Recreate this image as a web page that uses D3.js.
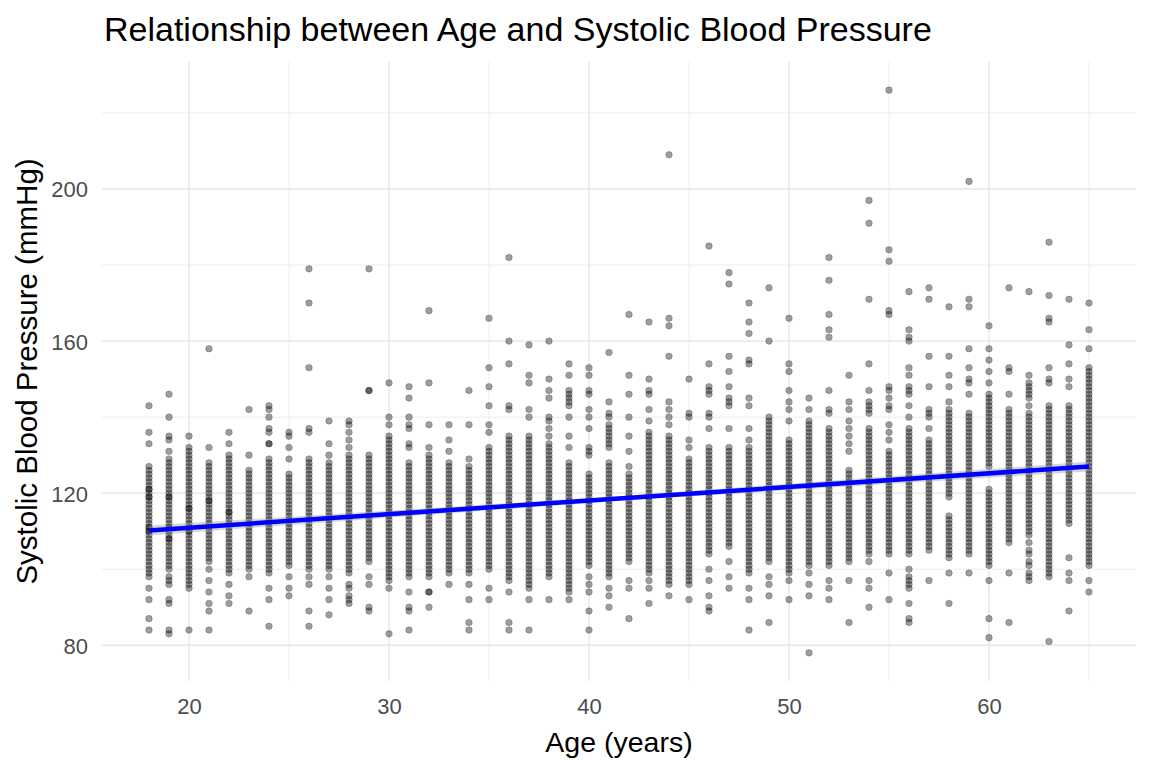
<!DOCTYPE html>
<html>
<head>
<meta charset="utf-8">
<script src="https://cdn.jsdelivr.net/npm/d3@7"></script>
<style>
  body { margin: 0; background: white; }
  text { font-family: "Liberation Sans", Arial, sans-serif; }
</style>
</head>
<body>
<div id="chart"></div>
<script>
// ages on x, one list of systolic readings per age
const ages = [18,19,20,21,22,23,24,25,26,27,28,29,30,31,32,33,34,35,36,37,38,39,40,41,
              42,43,44,45,46,47,48,49,50,51,52,53,54,55,56,57,58,59,60,61,62,63,64,65];

const sbpByAge = [
  [143,136,133,127,126,125,124,123,122,121,121,120,119,119,118,117,116,115,114,113,112,111,111,110,110,109,108,107,106,105,104,103,102,101,100,99,98,95,92,87,84],
  [146,140,135,134,131,129,128,127,126,125,124,123,122,121,120,119,119,118,117,116,115,114,113,112,111,111,110,109,108,108,107,106,105,104,103,102,101,100,98,97,96,92,91,84,83],
  [135,132,131,130,129,128,127,126,125,124,123,122,121,120,119,118,117,116,116,115,114,113,112,111,110,110,109,108,107,106,105,104,103,102,101,100,99,98,97,96,95,84],
  [158,132,128,127,126,125,124,123,122,121,120,119,118,118,117,116,115,114,113,112,111,110,109,108,107,106,105,104,103,102,100,97,94,91,89,84],
  [136,133,130,129,128,127,126,125,124,123,122,121,120,119,118,117,116,115,115,114,113,112,111,110,109,108,107,106,105,104,103,102,101,100,99,96,93,91],
  [142,130,126,125,124,123,122,121,120,119,118,117,116,115,114,113,112,111,110,109,108,107,106,105,104,103,102,101,100,98,89],
  [143,142,140,137,136,133,133,129,128,127,126,125,124,123,122,121,120,119,118,117,116,115,114,113,112,111,110,109,108,107,106,105,104,103,102,101,100,99,95,92,85],
  [136,135,132,129,125,124,123,122,121,120,119,118,117,116,115,114,113,112,111,110,109,108,107,106,105,104,103,102,101,98,95,93],
  [179,170,153,137,136,129,128,127,126,125,124,123,122,121,120,119,118,117,116,115,114,113,112,111,110,109,108,107,106,105,104,103,102,101,100,98,96,89,85],
  [139,133,130,128,127,126,125,124,123,122,121,120,119,118,117,116,115,114,113,112,111,110,109,108,107,106,105,104,103,102,101,100,98,95,92,88],
  [139,138,136,134,132,130,129,128,127,126,125,124,123,122,121,120,119,118,117,116,115,114,113,112,111,110,109,108,107,106,105,104,103,102,101,100,99,96,95,93,92,91],
  [179,147,147,130,129,128,127,126,125,124,123,122,121,120,119,118,117,116,115,114,113,112,111,110,109,108,107,106,105,104,103,102,98,96,90,89],
  [149,140,138,135,134,133,132,131,130,129,128,127,126,125,124,123,122,121,120,119,118,117,116,115,114,113,112,111,110,109,108,107,106,105,104,103,102,101,100,99,98,97,95,83],
  [148,145,140,138,137,133,132,128,127,126,125,124,123,122,121,120,119,118,117,116,115,114,113,112,111,110,109,108,107,106,105,104,103,102,101,100,99,98,94,90,89,84],
  [168,149,138,132,130,129,128,127,126,125,124,123,122,121,120,119,118,117,116,115,114,113,112,111,110,109,108,107,106,105,104,103,102,101,100,99,98,94,94,90],
  [138,134,131,128,127,126,125,124,123,122,121,120,119,118,117,116,115,114,113,112,111,110,109,108,107,106,105,104,103,102,101,100,99,96],
  [147,138,129,127,126,125,124,123,122,121,120,119,118,117,116,115,114,113,112,111,110,109,108,107,106,105,104,103,102,101,100,99,96,92,86,84],
  [166,153,148,143,138,136,132,131,130,129,128,127,126,125,124,123,122,121,120,119,118,117,116,115,114,113,112,111,110,109,108,107,106,105,104,103,102,101,100,95,92],
  [182,160,154,143,142,135,134,133,132,131,130,129,128,127,126,125,124,123,122,121,120,119,118,117,116,115,114,113,112,111,110,109,108,107,106,105,104,103,102,101,100,99,98,97,94,86,84],
  [159,151,149,142,140,135,134,133,132,131,130,129,128,127,126,125,124,123,122,121,120,119,118,117,116,115,114,113,112,111,110,109,108,107,106,105,104,103,102,101,100,99,98,97,96,95,92,84],
  [160,150,147,145,140,139,137,135,133,132,131,130,129,128,127,126,125,124,123,122,121,120,119,118,117,116,115,114,113,112,111,110,109,108,107,106,105,104,103,102,101,100,99,98,92],
  [154,151,147,146,145,144,143,140,135,132,128,127,126,125,124,123,122,121,120,119,118,117,116,115,114,113,112,111,110,109,108,107,106,105,104,103,102,101,100,99,98,97,96,95,94,92],
  [153,151,147,146,142,140,137,132,131,130,125,124,123,122,121,120,119,118,117,116,115,114,113,112,111,110,109,108,107,106,105,104,103,102,101,98,96,94,89,84],
  [157,144,141,140,138,137,136,135,134,133,132,128,127,126,125,124,123,122,121,120,119,118,117,116,115,114,113,112,111,110,109,108,107,106,105,104,103,102,101,100,99,98,95,93,90],
  [167,151,146,140,135,131,127,125,124,123,122,121,120,119,118,117,116,115,114,113,112,111,110,109,108,107,106,105,104,103,102,97,95,87],
  [165,150,147,146,142,139,136,135,134,133,132,131,130,129,128,127,126,125,124,123,122,121,120,119,118,117,116,115,114,113,112,111,110,109,108,107,106,105,104,103,102,101,100,99,97,95,91],
  [209,166,164,156,144,142,140,138,135,134,133,132,131,130,129,128,127,126,125,124,123,122,121,120,119,118,117,116,115,114,113,112,111,110,109,108,107,106,105,104,103,102,101,100,99,98,97,96,93],
  [150,141,140,134,132,129,128,127,126,125,124,123,122,121,120,119,118,117,116,115,114,113,112,111,110,109,108,107,106,105,104,103,102,101,100,99,98,97,96,92],
  [185,154,148,147,146,141,140,137,132,131,130,129,128,127,126,125,124,123,122,121,120,119,118,117,116,115,114,113,112,111,110,109,108,107,106,105,104,100,97,93,90,89],
  [178,175,156,152,148,145,144,143,137,132,131,130,129,128,127,126,125,124,123,122,121,120,119,118,117,116,115,114,113,112,111,110,109,108,107,106,102,98,95],
  [170,165,162,155,154,145,143,137,134,132,131,130,129,128,127,126,125,124,123,122,121,120,119,118,117,116,115,114,113,112,111,110,109,108,107,106,105,104,103,102,101,100,99,95,92,84],
  [174,160,140,139,138,137,136,135,134,133,132,131,130,129,128,127,126,125,124,123,122,121,120,119,118,117,116,115,114,113,112,111,110,109,108,107,106,105,104,103,102,98,96,93,86],
  [166,154,152,147,144,142,139,134,133,132,131,130,129,128,127,126,125,124,123,122,121,120,119,118,117,116,115,114,113,112,111,110,109,108,107,106,105,104,103,102,101,100,99,97,92],
  [145,142,139,138,137,136,135,134,133,132,131,130,129,128,127,126,125,124,123,122,121,120,119,118,117,116,115,114,113,112,111,110,109,108,107,106,105,104,103,102,101,99,96,93,78],
  [182,176,167,163,161,147,142,141,137,136,135,134,133,132,131,130,129,128,127,126,125,124,123,122,121,120,119,118,117,116,115,114,113,112,111,110,109,108,107,106,105,104,103,102,101,97,95,92],
  [151,144,142,139,137,135,133,131,126,125,124,123,122,121,120,119,118,117,116,115,114,113,112,111,110,109,108,107,106,105,104,103,102,97,86],
  [197,191,171,154,147,144,143,142,141,137,136,135,134,133,132,131,130,129,128,127,126,125,124,123,122,121,120,119,118,117,116,115,114,113,112,111,110,109,108,107,106,105,104,102,97,95,90],
  [226,184,181,168,167,148,147,145,143,142,138,136,134,131,130,129,128,127,126,125,124,123,122,121,120,119,118,117,116,115,114,113,112,111,110,109,108,107,106,105,104,99,92],
  [173,163,161,160,153,151,148,147,146,143,140,137,136,135,134,133,132,131,130,129,128,127,126,125,124,123,122,121,120,119,118,117,116,115,114,113,112,111,110,109,108,107,106,105,104,100,98,97,96,95,91,87,86],
  [174,171,156,148,142,141,140,137,134,133,132,131,130,129,128,127,126,125,124,123,122,121,120,119,118,117,116,115,114,113,112,111,110,109,108,107,106,105,97],
  [169,156,151,148,144,142,141,140,139,138,137,136,135,134,133,132,131,130,129,128,127,126,125,124,123,122,121,120,119,114,113,112,111,110,109,108,107,106,105,104,103,99,91],
  [202,171,169,158,153,150,149,146,141,140,139,138,137,136,135,134,133,132,131,130,129,128,127,126,125,124,123,122,121,120,119,118,117,116,115,114,113,112,111,110,109,108,107,106,105,104,99],
  [164,158,155,152,149,146,145,144,143,142,141,140,139,138,137,136,135,134,133,132,131,130,129,128,127,121,120,119,118,117,116,115,114,113,112,111,110,109,108,107,106,105,104,103,102,101,97,87,82],
  [174,153,152,146,142,141,140,139,138,137,136,135,134,133,132,131,130,129,128,127,126,125,124,123,122,121,120,119,118,117,116,115,114,113,112,111,110,109,108,107,99,86],
  [173,151,149,148,147,146,145,143,141,140,139,138,137,136,135,134,133,132,131,130,129,128,127,126,125,124,123,122,121,120,119,118,117,116,115,114,113,112,111,110,109,107,105,104,102,101,99,98,97],
  [186,172,166,165,153,150,149,143,142,141,140,139,138,137,136,135,134,133,132,131,130,129,128,127,126,125,124,123,122,121,120,119,118,117,116,115,114,113,112,111,110,109,108,107,106,105,104,103,102,101,100,99,98,81],
  [171,159,154,150,148,143,142,141,140,139,138,137,136,135,134,133,132,131,130,129,128,127,126,125,124,123,122,121,120,119,118,117,116,115,114,113,112,103,99,97,89],
  [170,163,158,153,152,151,150,149,148,147,146,145,144,143,142,141,140,139,138,137,136,135,134,133,132,131,130,129,128,127,126,125,124,123,122,121,120,119,118,117,116,115,114,113,112,111,110,109,108,107,106,105,104,103,102,101,97,94]
];

// fitted trend and its narrow band
const fitAge = [18, 41.5, 65];
const fitSbp = [110.2, 118.6, 127.0];
const fitLow = [108.9, 118.0, 125.7];
const fitHigh = [111.5, 119.2, 128.3];

const xTicks = [20, 30, 40, 50, 60];
const xMinor = [25, 35, 45, 55, 65];
const yTicks = [80, 120, 160, 200];
const yMinor = [100, 140, 180, 220];

const width = 1152, height = 768;
const panel = {left: 102, right: 1136, top: 62, bottom: 681};

let points = [];
ages.forEach((a, i) => sbpByAge[i].forEach(v => points.push({age: a, sbp: v})));

const allSbp = points.map(d => d.sbp);
const yLo = d3.min(allSbp), yHi = d3.max(allSbp);
const xLo = d3.min(ages), xHi = d3.max(ages);
const xPad = (xHi - xLo) * 0.05, yPad = (yHi - yLo) * 0.05;

let x = d3.scaleLinear().domain([xLo - xPad, xHi + xPad]).range([panel.left, panel.right]);
let y = d3.scaleLinear().domain([yLo - yPad, yHi + yPad]).range([panel.bottom, panel.top]);

let svg = d3.select('#chart').append('svg')
    .attr('width', width)
    .attr('height', height)
    .style('background', 'white');

// grid
let grid = svg.append('g');
grid.selectAll('.ymin').data(yMinor.filter(v => y(v) >= panel.top)).join('line')
    .attr('x1', panel.left).attr('x2', panel.right)
    .attr('y1', d => y(d)).attr('y2', d => y(d))
    .attr('stroke', '#ebebeb').attr('stroke-width', 0.9);
grid.selectAll('.xmin').data(xMinor).join('line')
    .attr('y1', panel.top).attr('y2', panel.bottom)
    .attr('x1', d => x(d)).attr('x2', d => x(d))
    .attr('stroke', '#ebebeb').attr('stroke-width', 0.9);
grid.selectAll('.ymaj').data(yTicks).join('line')
    .attr('x1', panel.left).attr('x2', panel.right)
    .attr('y1', d => y(d)).attr('y2', d => y(d))
    .attr('stroke', '#ebebeb').attr('stroke-width', 1.8);
grid.selectAll('.xmaj').data(xTicks).join('line')
    .attr('y1', panel.top).attr('y2', panel.bottom)
    .attr('x1', d => x(d)).attr('x2', d => x(d))
    .attr('stroke', '#ebebeb').attr('stroke-width', 1.8);

// points
svg.append('g').selectAll('circle')
    .data(points)
    .join('circle')
    .attr('cx', d => x(d.age))
    .attr('cy', d => y(d.sbp))
    .attr('r', 3.3)
    .attr('fill', 'rgba(0,0,0,0.38)')
    .attr('stroke', 'rgba(0,0,0,0.3)')
    .attr('stroke-width', 0.7);

// band + trend line
let fit = fitAge.map((a, i) => ({age: a, sbp: fitSbp[i], lo: fitLow[i], hi: fitHigh[i]}));
svg.append('path')
    .datum(fit)
    .attr('d', d3.area().x(d => x(d.age)).y0(d => y(d.lo)).y1(d => y(d.hi)))
    .attr('fill', '#999999')
    .attr('opacity', 0.4);
svg.append('path')
    .datum(fit)
    .attr('d', d3.line().x(d => x(d.age)).y(d => y(d.sbp)))
    .attr('fill', 'none')
    .attr('stroke', '#0000ff')
    .attr('stroke-width', 4.5);

// axes (text only, theme_minimal style)
let xAxis = svg.append('g')
    .attr('transform', `translate(0,${panel.bottom})`)
    .call(d3.axisBottom(x).tickValues(xTicks).tickSize(0).tickPadding(17));
let yAxis = svg.append('g')
    .attr('transform', `translate(${panel.left},0)`)
    .call(d3.axisLeft(y).tickValues(yTicks).tickSize(0).tickPadding(14));
[xAxis, yAxis].forEach(ax => {
    ax.select('.domain').remove();
    ax.selectAll('text')
      .attr('fill', '#4d4d4d')
      .style('font-size', '22px')
      .style('font-family', '"Liberation Sans", Arial, sans-serif');
});
xAxis.selectAll('text').attr('dy', '0.71em');
yAxis.selectAll('text').attr('dy', '0.36em');

svg.append('text')
    .attr('x', 104).attr('y', 41)
    .style('font-size', '34px')
    .attr('fill', 'black')
    .text('Relationship between Age and Systolic Blood Pressure');

svg.append('text')
    .attr('x', (panel.left + panel.right) / 2).attr('y', 752)
    .attr('text-anchor', 'middle')
    .style('font-size', '28.5px')
    .text('Age (years)');

svg.append('text')
    .attr('transform', `translate(37,${(panel.top + panel.bottom) / 2}) rotate(-90)`)
    .attr('text-anchor', 'middle')
    .style('font-size', '29.5px')
    .text('Systolic Blood Pressure (mmHg)');
</script>
</body>
</html>
